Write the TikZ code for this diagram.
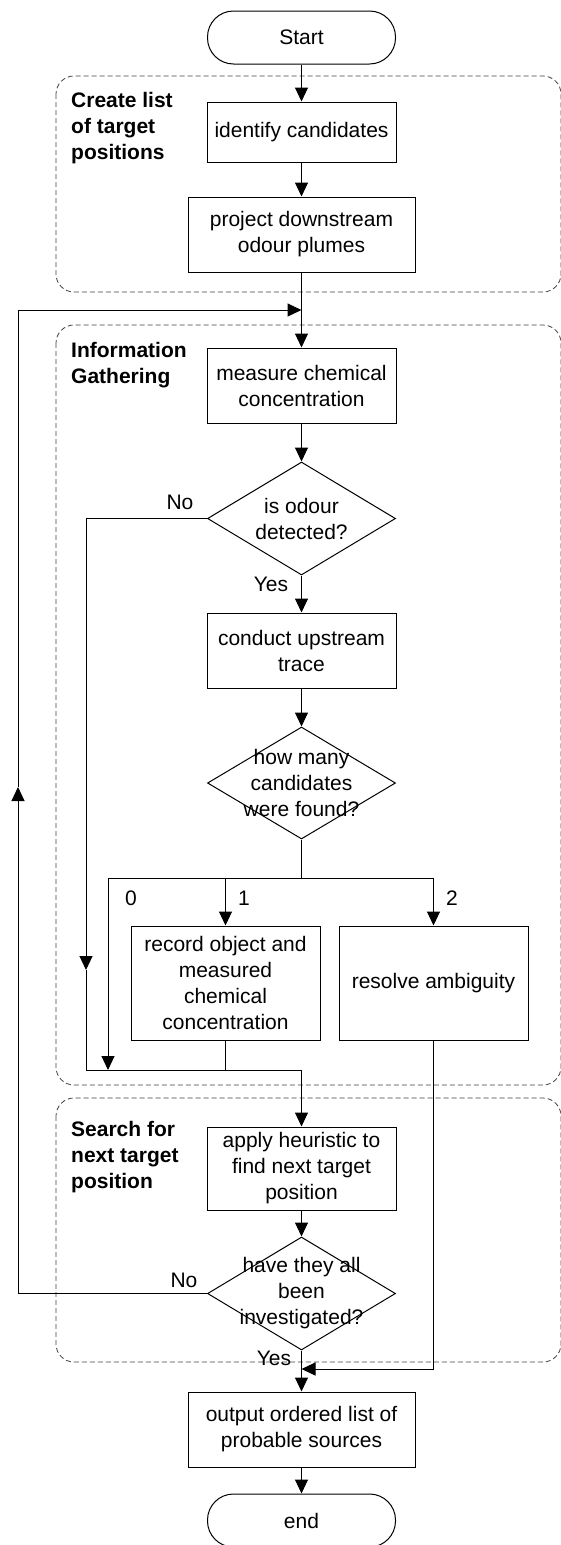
\documentclass[tikz,border=0pt]{standalone}
\usepackage{fontspec}
\setmainfont{Liberation Sans}
\usetikzlibrary{arrows.meta,shapes.geometric}
\begin{document}
\begin{tikzpicture}[x=1pt,y=-1pt,
  every node/.style={font=\fontsize{21}{26}\selectfont, align=center, inner sep=0pt},
  line/.style={line width=1pt},
  arr/.style={line width=1pt, -{Triangle[length=14pt,width=13pt]}},
  box/.style={draw, line width=1pt, minimum width=189pt},
  wbox/.style={draw, line width=1pt, minimum width=227pt, minimum height=75pt},
  term/.style={draw, line width=1pt, rounded corners=26pt, minimum width=188pt, minimum height=53pt},
  dia/.style={draw, diamond, line width=1pt, minimum width=188pt, minimum height=113pt},
  group/.style={draw=black!75, line width=0.8pt, dash pattern=on 5pt off 3pt, rounded corners=18pt},
  grouplabel/.style={font=\fontsize{21}{26}\selectfont\bfseries, align=left, anchor=west},
  lab/.style={font=\fontsize{21}{26}\selectfont}
]
\useasboundingbox (0,0) rectangle (561,1545);

% groups
\draw[group] (56,76) rectangle (561,292);
\draw[group] (56,325) rectangle (561,1085);
\draw[group] (56,1098) rectangle (561,1362);
\node[grouplabel] (g1) at (71,128) {Create list\\of target\\positions};
\node[grouplabel] (g2) at (71,365.5) {Information\\Gathering};
\node[grouplabel] (g3) at (71,1157) {Search for\\next target\\position};

% nodes
\node[term] (start) at (301.5,37.5) {Start};
\node[box, minimum height=60pt] (ident) at (301.5,132) {identify candidates};
\node[wbox] (proj) at (301.5,234.5) {project downstream\\odour plumes};
\node[box, minimum height=75pt] (meas) at (301.5,385.5) {measure chemical\\concentration};
\node[dia] (d1) at (301.5,518.5) {};
\node (d1t) at (d1.center) {is odour\\detected?};
\node[box, minimum height=75pt] (cond) at (301.5,650.5) {conduct upstream\\trace};
\node[dia, minimum height=112pt] (d2) at (301.5,783) {};
\node (d2t) at (d2.center) {how many\\candidates\\were found?};
\node[box, minimum height=114pt] (rec) at (225.5,983) {record object and\\measured\\chemical\\concentration};
\node[box, minimum height=114pt] (res) at (433.5,983) {resolve ambiguity};
\node[box, minimum height=83pt] (apply) at (301.5,1168.5) {apply heuristic to\\find next target\\position};
\node[dia] (d3) at (301.5,1293.5) {};
\node (d3t) at (d3.center) {have they all\\been\\investigated?};
\node[wbox] (out) at (301.5,1429.5) {output ordered list of\\probable sources};
\node[term] (end) at (301.5,1520.5) {end};

% coordinates
\coordinate (loopjoin) at (301.5,310);
\coordinate (loopbot) at (18,1293.5);
\coordinate (loopmid) at (18,787);
\coordinate (looptop) at (18,310);
\coordinate (no1a) at (86,518.5);
\coordinate (no1mid) at (86,970);
\coordinate (no1b) at (86,1070);
\coordinate (brc) at (301.5,878);
\coordinate (br0) at (108,878);
\coordinate (br0e) at (108,1070);
\coordinate (br1) at (225.5,878);
\coordinate (br2) at (433.5,878);
\coordinate (rec1) at (225.5,1070);
\coordinate (merge) at (301.5,1070);
\coordinate (rescorner) at (433.5,1369);
\coordinate (resjoin) at (301.5,1369);

% connectors
\draw[arr] (start) -- (ident);
\draw[arr] (ident) -- (proj);
\draw[arr] (proj) -- (meas);
\draw[arr] (meas) -- (d1.north);
\draw[arr] (d1.south) -- (cond);
\draw[arr] (cond) -- (d2.north);
\draw[line] (d2.south) -- (brc);
\draw[line] (br0) -- (br2);
\draw[arr] (br1) -- (rec);
\draw[arr] (br2) -- (res);
\draw[arr] (br0) -- (br0e);
\draw[line] (rec) -- (rec1);
\draw[arr] (d1.west) -- (no1a) -- (no1mid);
\draw[line] (no1mid) -- (no1b) -- (merge);
\draw[arr] (merge) -- (apply);
\draw[arr] (apply) -- (d3.north);
\draw[arr] (d3.south) -- (out);
\draw[arr] (res) -- (rescorner) -- (resjoin);
\draw[arr] (out) -- (end);
\draw[arr] (d3.west) -- (loopbot) -- (loopmid);
\draw[arr] (loopmid) -- (looptop) -- (loopjoin);

% labels
\node[lab] (no1) at (180,502) {No};
\node[lab] (yes1) at (271,584) {Yes};
\node[lab] (l0) at (131,898) {0};
\node[lab] (l1) at (244,898) {1};
\node[lab] (l2) at (452,898) {2};
\node[lab] (no2) at (184,1280) {No};
\node[lab] (yes2) at (274,1358) {Yes};
\end{tikzpicture}
\end{document}
